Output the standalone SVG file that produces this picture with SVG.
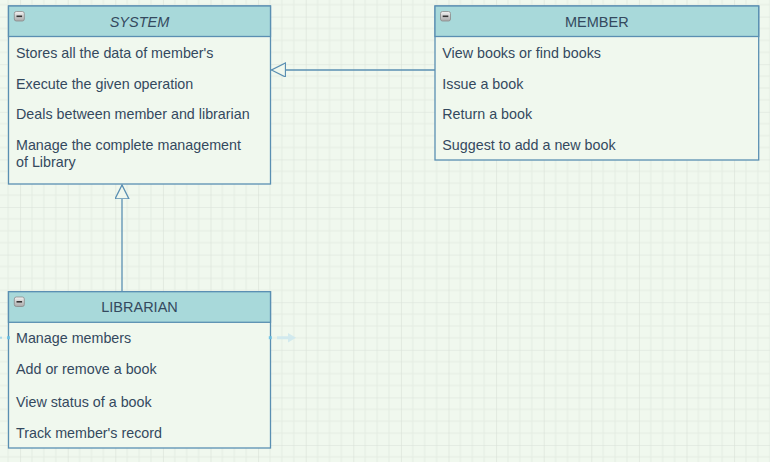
<svg xmlns="http://www.w3.org/2000/svg" width="770" height="462" viewBox="0 0 770 462">
<defs>
<pattern id="grid" patternUnits="userSpaceOnUse" x="20.1" y="16.6" width="47.6" height="47.6">
<rect width="47.6" height="47.6" fill="#f0f8ee"/>
<path d="M11.9 0V47.6M23.8 0V47.6M35.7 0V47.6M0 11.9H47.6M0 23.8H47.6M0 35.7H47.6" stroke="#e4ede3" stroke-width="1"/>
<path d="M0 0V47.6M0 0H47.6" stroke="#d9e1d8" stroke-width="1.2"/>
</pattern>
<linearGradient id="btn" x1="0" y1="0" x2="0" y2="1">
<stop offset="0" stop-color="#f2f2f2"/>
<stop offset="1" stop-color="#a9a9a9"/>
</linearGradient>
<marker id="tri" markerWidth="16" markerHeight="16" refX="14" refY="7" orient="auto" markerUnits="userSpaceOnUse">
<path d="M14 7L0 0V14Z" fill="#f0f8ee" stroke="#5a8fb2" stroke-width="1.3"/>
</marker>
<g id="collapse">
<rect x="0" y="0" width="10" height="9.5" rx="2" fill="url(#btn)" stroke="#8a8a8a" stroke-width="0.8"/>
<rect x="2.2" y="4" width="5.6" height="1.6" fill="#333"/>
</g>
</defs>
<style>
.box{fill:#f0f8ee;stroke:#5a8fb2;stroke-width:1.3}
.hdr{fill:#a8d9da;stroke:#5a8fb2;stroke-width:1.3}
.t{font-family:"Liberation Sans",Arial,sans-serif;font-size:14.3px;fill:#34495e}
.h{font-family:"Liberation Sans",Arial,sans-serif;font-size:14.5px;fill:#34495e;text-anchor:middle}
.edge{fill:none;stroke:#5a8fb2;stroke-width:1.3}
</style>
<rect width="770" height="462" fill="url(#grid)"/>

<g id="connectors">
<path class="edge" d="M436.5 70H271.5" marker-end="url(#tri)"/>
<path class="edge" d="M122 291V185" marker-end="url(#tri)"/>
</g>

<g id="system">
<rect class="box" x="8.5" y="6" width="262" height="178"/>
<rect class="hdr" x="8.5" y="6" width="262" height="30.5"/>
<use href="#collapse" x="14.3" y="11.5"/>
<text class="h" x="139.5" y="26.7" font-style="italic">SYSTEM</text>
<text class="t" x="16" y="57.7">Stores all the data of member's</text>
<text class="t" x="16" y="88.7">Execute the given operation</text>
<text class="t" x="16" y="119.3">Deals between member and librarian</text>
<text class="t" x="16" y="150">Manage the complete management</text>
<text class="t" x="16" y="166.7">of Library</text>
</g>

<g id="member">
<rect class="box" x="435" y="6" width="323.7" height="154"/>
<rect class="hdr" x="435" y="6" width="323.7" height="30.5"/>
<use href="#collapse" x="440.5" y="11.5"/>
<text class="h" x="596.8" y="26.7">MEMBER</text>
<text class="t" x="442.3" y="57.7">View books or find books</text>
<text class="t" x="442.3" y="88.5">Issue a book</text>
<text class="t" x="442.3" y="119.2">Return a book</text>
<text class="t" x="442.3" y="150">Suggest to add a new book</text>
</g>

<g id="librarian">
<rect class="box" x="8.5" y="291.7" width="262" height="156.3"/>
<rect class="hdr" x="8.5" y="291.7" width="262" height="30.6"/>
<use href="#collapse" x="14.3" y="297"/>
<text class="h" x="139.5" y="312.3">LIBRARIAN</text>
<text class="t" x="16" y="343.3">Manage members</text>
<text class="t" x="16" y="374.3">Add or remove a book</text>
<text class="t" x="16" y="407.3">View status of a book</text>
<text class="t" x="16" y="438.3">Track member's record</text>
</g>

<g id="hover" opacity="0.9">
<rect x="268.8" y="336.2" width="3" height="3" fill="#6cc3e6"/>
<rect x="7" y="336.2" width="3" height="3" fill="#6cc3e6"/>
<rect x="0" y="336.7" width="2" height="2" fill="#9ed6ec"/>
<path d="M277 336.2H288V333L296 337.7L288 342.4V339.2H277Z" fill="#cfe9ef"/>
</g>
</svg>
